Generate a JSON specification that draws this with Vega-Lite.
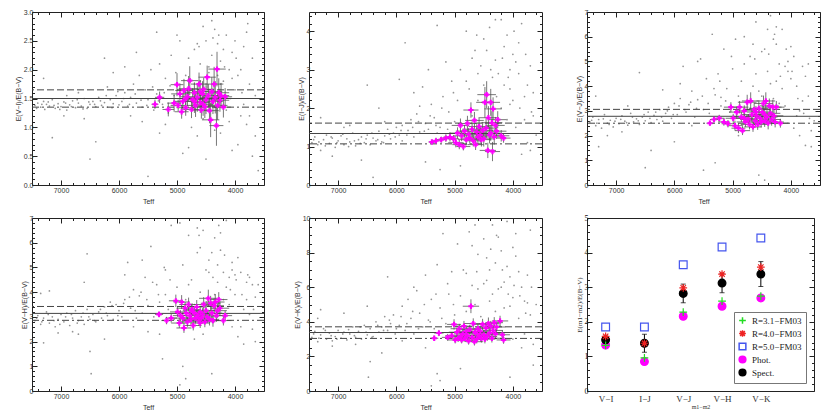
{
"$schema":"https://vega.github.io/schema/vega-lite/v6.json",
"background":"white",
"padding":{"left":13,"top":7,"right":2,"bottom":0},
"columns":3,
"spacing":{"row":33,"column":45},
"bounds":"flush",
"resolve":{"legend":{"shape":"independent","fill":"independent","stroke":"independent","strokeDash":"independent"}},
"datasets":{
"g":[
{"p":1,"t":7450,"v":1.38},{"p":1,"t":7400,"v":1.42},{"p":1,"t":7350,"v":1.35},{"p":1,"t":7300,"v":1.45},{"p":1,"t":7280,"v":1.31},{"p":1,"t":7250,"v":1.40},{"p":1,"t":7200,"v":1.37},{"p":1,"t":7150,"v":1.48},{"p":1,"t":7100,"v":1.33},{"p":1,"t":7050,"v":1.41},{"p":1,"t":7000,"v":1.36},{"p":1,"t":6950,"v":1.44},{"p":1,"t":6900,"v":1.30},{"p":1,"t":6850,"v":1.39},{"p":1,"t":6800,"v":1.46},{"p":1,"t":6750,"v":1.34},{"p":1,"t":6700,"v":1.42},{"p":1,"t":6650,"v":1.37},{"p":1,"t":6600,"v":1.50},{"p":1,"t":6550,"v":1.33},{"p":1,"t":6500,"v":1.40},{"p":1,"t":6450,"v":1.45},{"p":1,"t":6400,"v":1.36},{"p":1,"t":6350,"v":1.52},{"p":1,"t":6300,"v":1.38},{"p":1,"t":6250,"v":1.43},{"p":1,"t":6200,"v":1.35},{"p":1,"t":6150,"v":1.48},{"p":1,"t":6100,"v":1.41},{"p":1,"t":6050,"v":1.55},{"p":1,"t":6000,"v":1.39},
{"p":1,"t":7300,"v":1.85},{"p":1,"t":7150,"v":0.82},{"p":1,"t":6950,"v":1.20},{"p":1,"t":6700,"v":1.60},{"p":1,"t":6600,"v":1.15},{"p":1,"t":6500,"v":0.45},{"p":1,"t":6400,"v":0.75},{"p":1,"t":6250,"v":2.2},{"p":1,"t":6100,"v":1.95},{"p":1,"t":6200,"v":1.70},{"p":1,"t":6900,"v":1.55},
{"p":1,"t":5950,"v":1.45},{"p":1,"t":5900,"v":1.60},{"p":1,"t":5850,"v":1.37},{"p":1,"t":5800,"v":1.52},{"p":1,"t":5750,"v":1.75},{"p":1,"t":5700,"v":1.42},{"p":1,"t":5650,"v":1.90},{"p":1,"t":5600,"v":1.35},{"p":1,"t":5550,"v":1.65},{"p":1,"t":5500,"v":1.48},{"p":1,"t":5450,"v":2.0},{"p":1,"t":5400,"v":1.30},{"p":1,"t":5350,"v":1.58},{"p":1,"t":5300,"v":2.1},{"p":1,"t":5250,"v":1.40},{"p":1,"t":5200,"v":1.85},{"p":1,"t":5150,"v":1.25},{"p":1,"t":5100,"v":2.25},{"p":1,"t":5050,"v":1.55},{"p":1,"t":5000,"v":2.6},{"p":1,"t":5900,"v":2.05},{"p":1,"t":5800,"v":1.2},{"p":1,"t":5500,"v":0.15},{"p":1,"t":5600,"v":1.1},{"p":1,"t":5300,"v":0.9},{"p":1,"t":5700,"v":2.3},{"p":1,"t":5350,"v":2.65},{"p":1,"t":5200,"v":1.05},
{"p":1,"t":4950,"v":2.5},{"p":1,"t":4900,"v":0.55},{"p":1,"t":4850,"v":1.9},{"p":1,"t":4800,"v":2.2},{"p":1,"t":4750,"v":1.0},{"p":1,"t":4700,"v":2.35},{"p":1,"t":4650,"v":0.85},{"p":1,"t":4600,"v":2.1},{"p":1,"t":4550,"v":2.75},{"p":1,"t":4500,"v":0.45},{"p":1,"t":4450,"v":1.95},{"p":1,"t":4400,"v":2.85},{"p":1,"t":4350,"v":0.95},{"p":1,"t":4300,"v":2.45},{"p":1,"t":4250,"v":2.15},{"p":1,"t":4200,"v":1.8},{"p":1,"t":4150,"v":2.6},{"p":1,"t":4100,"v":1.1},{"p":1,"t":4050,"v":2.3},{"p":1,"t":4000,"v":1.65},{"p":1,"t":3950,"v":0.7},{"p":1,"t":3900,"v":2.0},{"p":1,"t":3850,"v":1.4},{"p":1,"t":3800,"v":2.65},{"p":1,"t":3750,"v":1.2},{"p":1,"t":3700,"v":0.5},{"p":1,"t":3650,"v":1.55},{"p":1,"t":3600,"v":0.25},{"p":1,"t":4450,"v":2.05},{"p":1,"t":4350,"v":2.7},{"p":1,"t":4250,"v":1.75},{"p":1,"t":4150,"v":1.3},{"p":1,"t":4050,"v":0.6},{"p":1,"t":3950,"v":1.9},{"p":1,"t":3850,"v":2.4},{"p":1,"t":3750,"v":1.75},{"p":1,"t":4500,"v":2.5},{"p":1,"t":4600,"v":1.8},{"p":1,"t":4700,"v":1.75},{"p":1,"t":4800,"v":0.65},{"p":1,"t":4400,"v":2.25},{"p":1,"t":4300,"v":1.9},{"p":1,"t":4200,"v":2.35},{"p":1,"t":4100,"v":2.0},{"p":1,"t":4000,"v":2.5},{"p":1,"t":3900,"v":1.2},{"p":1,"t":3800,"v":1.05},{"p":1,"t":4650,"v":2.45},{"p":1,"t":4550,"v":1.15},{"p":1,"t":4250,"v":0.9},{"p":1,"t":4050,"v":1.85},{"p":1,"t":3700,"v":2.2},{"p":1,"t":3650,"v":0.85},{"p":1,"t":4850,"v":1.3},{"p":1,"t":4750,"v":1.45},{"p":1,"t":4350,"v":1.35},
{"p":1,"t":7420,"v":1.33},{"p":1,"t":7330,"v":1.40},{"p":1,"t":7220,"v":1.44},{"p":1,"t":7120,"v":1.38},{"p":1,"t":7020,"v":1.31},{"p":1,"t":6920,"v":1.42},{"p":1,"t":6820,"v":1.36},{"p":1,"t":6720,"v":1.48},{"p":1,"t":6620,"v":1.32},{"p":1,"t":6520,"v":1.44},{"p":1,"t":6420,"v":1.40},{"p":1,"t":6320,"v":1.46},{"p":1,"t":6220,"v":1.55},{"p":1,"t":6120,"v":1.34},{"p":1,"t":6020,"v":1.62},{"p":1,"t":5920,"v":1.50},{"p":1,"t":5820,"v":1.40},{"p":1,"t":5720,"v":1.58},{"p":1,"t":5620,"v":1.47},{"p":1,"t":5520,"v":1.38},{"p":1,"t":5420,"v":1.70},{"p":1,"t":5320,"v":1.46},{"p":1,"t":5220,"v":1.60},{"p":1,"t":5120,"v":1.72},{"p":1,"t":5020,"v":1.95},{"p":1,"t":4620,"v":2.4},{"p":1,"t":4380,"v":2.55},{"p":1,"t":4180,"v":2.05},{"p":1,"t":3980,"v":2.2},{"p":1,"t":3880,"v":1.6},{"p":1,"t":3780,"v":2.8},{"p":1,"t":4280,"v":2.6},{"p":1,"t":4080,"v":1.5},{"p":1,"t":3680,"v":1.35},
{"p":2,"t":7450,"v":1.10},{"p":2,"t":7400,"v":1.25},{"p":2,"t":7350,"v":1.05},{"p":2,"t":7300,"v":0.90},{"p":2,"t":7250,"v":1.18},{"p":2,"t":7200,"v":1.30},{"p":2,"t":7150,"v":1.08},{"p":2,"t":7100,"v":1.22},{"p":2,"t":7050,"v":0.98},{"p":2,"t":7000,"v":1.15},{"p":2,"t":6950,"v":1.28},{"p":2,"t":6900,"v":1.05},{"p":2,"t":6850,"v":1.20},{"p":2,"t":6800,"v":1.12},{"p":2,"t":6750,"v":1.35},{"p":2,"t":6700,"v":1.02},{"p":2,"t":6650,"v":1.18},{"p":2,"t":6600,"v":1.25},{"p":2,"t":6550,"v":1.10},{"p":2,"t":6500,"v":1.30},{"p":2,"t":6450,"v":1.05},{"p":2,"t":6400,"v":1.22},{"p":2,"t":6350,"v":1.15},{"p":2,"t":6300,"v":1.40},{"p":2,"t":6250,"v":1.12},{"p":2,"t":6200,"v":1.28},{"p":2,"t":6150,"v":1.45},{"p":2,"t":6100,"v":1.20},{"p":2,"t":6050,"v":1.35},{"p":2,"t":6000,"v":1.50},
{"p":2,"t":7300,"v":1.75},{"p":2,"t":7100,"v":0.75},{"p":2,"t":6800,"v":1.55},{"p":2,"t":6500,"v":2.6},{"p":2,"t":6600,"v":0.65},{"p":2,"t":6300,"v":2.0},{"p":2,"t":6200,"v":1.65},{"p":2,"t":6400,"v":0.2},{"p":2,"t":6900,"v":1.5},
{"p":2,"t":5950,"v":1.30},{"p":2,"t":5900,"v":1.55},{"p":2,"t":5850,"v":3.7},{"p":2,"t":5800,"v":1.42},{"p":2,"t":5750,"v":1.70},{"p":2,"t":5700,"v":1.25},{"p":2,"t":5650,"v":1.85},{"p":2,"t":5600,"v":1.38},{"p":2,"t":5550,"v":2.55},{"p":2,"t":5500,"v":1.60},{"p":2,"t":5450,"v":1.45},{"p":2,"t":5400,"v":2.1},{"p":2,"t":5350,"v":1.75},{"p":2,"t":5300,"v":4.15},{"p":2,"t":5250,"v":1.50},{"p":2,"t":5200,"v":2.3},{"p":2,"t":5150,"v":3.2},{"p":2,"t":5100,"v":1.9},{"p":2,"t":5050,"v":2.7},{"p":2,"t":5000,"v":1.65},{"p":2,"t":5950,"v":2.75},{"p":2,"t":5700,"v":2.4},{"p":2,"t":5500,"v":0.6},{"p":2,"t":5450,"v":3.0},{"p":2,"t":5250,"v":0.4},{"p":2,"t":5900,"v":1.15},{"p":2,"t":5600,"v":2.05},{"p":2,"t":5300,"v":1.35},
{"p":2,"t":4950,"v":2.2},{"p":2,"t":4900,"v":3.0},{"p":2,"t":4850,"v":1.4},{"p":2,"t":4800,"v":4.0},{"p":2,"t":4750,"v":2.5},{"p":2,"t":4700,"v":1.8},{"p":2,"t":4650,"v":3.5},{"p":2,"t":4600,"v":2.9},{"p":2,"t":4550,"v":1.2},{"p":2,"t":4500,"v":3.8},{"p":2,"t":4450,"v":2.35},{"p":2,"t":4400,"v":4.1},{"p":2,"t":4350,"v":2.8},{"p":2,"t":4300,"v":3.25},{"p":2,"t":4250,"v":1.6},{"p":2,"t":4200,"v":4.3},{"p":2,"t":4150,"v":2.6},{"p":2,"t":4100,"v":3.9},{"p":2,"t":4050,"v":2.1},{"p":2,"t":4000,"v":3.4},{"p":2,"t":3950,"v":1.5},{"p":2,"t":3900,"v":2.9},{"p":2,"t":3850,"v":4.2},{"p":2,"t":3800,"v":2.3},{"p":2,"t":3750,"v":1.1},{"p":2,"t":3700,"v":3.1},{"p":2,"t":3650,"v":1.8},{"p":2,"t":3600,"v":1.3},{"p":2,"t":4450,"v":3.5},{"p":2,"t":4350,"v":1.95},{"p":2,"t":4250,"v":2.9},{"p":2,"t":4150,"v":3.6},{"p":2,"t":4050,"v":2.5},{"p":2,"t":3950,"v":3.2},{"p":2,"t":3850,"v":0.8},{"p":2,"t":3750,"v":2.6},{"p":2,"t":4600,"v":2.2},{"p":2,"t":4700,"v":3.3},{"p":2,"t":4800,"v":2.7},{"p":2,"t":4900,"v":0.5},{"p":2,"t":4500,"v":2.6},{"p":2,"t":4300,"v":4.3},{"p":2,"t":4100,"v":1.7},{"p":2,"t":4000,"v":2.2},{"p":2,"t":3900,"v":3.7},{"p":2,"t":3800,"v":1.7},{"p":2,"t":4650,"v":1.1},{"p":2,"t":4550,"v":3.1},{"p":2,"t":4200,"v":2.0},{"p":2,"t":4050,"v":3.0},{"p":2,"t":3700,"v":0.9},{"p":2,"t":3650,"v":2.4},
{"p":2,"t":7420,"v":1.18},{"p":2,"t":7330,"v":1.12},{"p":2,"t":7220,"v":1.02},{"p":2,"t":7120,"v":1.25},{"p":2,"t":7020,"v":1.10},{"p":2,"t":6920,"v":1.32},{"p":2,"t":6820,"v":1.00},{"p":2,"t":6720,"v":1.15},{"p":2,"t":6620,"v":1.08},{"p":2,"t":6520,"v":1.20},{"p":2,"t":6420,"v":1.35},{"p":2,"t":6320,"v":1.18},{"p":2,"t":6220,"v":1.10},{"p":2,"t":6120,"v":1.32},{"p":2,"t":6020,"v":1.25},{"p":2,"t":5920,"v":1.42},{"p":2,"t":5820,"v":1.30},{"p":2,"t":5720,"v":1.50},{"p":2,"t":5620,"v":1.65},{"p":2,"t":5520,"v":1.40},{"p":2,"t":5420,"v":1.80},{"p":2,"t":5320,"v":1.55},{"p":2,"t":5220,"v":2.0},{"p":2,"t":5120,"v":1.45},{"p":2,"t":5020,"v":2.4},{"p":2,"t":4620,"v":3.9},{"p":2,"t":4380,"v":3.0},{"p":2,"t":4180,"v":3.3},{"p":2,"t":3980,"v":4.0},{"p":2,"t":3880,"v":2.0},{"p":2,"t":3780,"v":3.4},{"p":2,"t":4280,"v":2.3},{"p":2,"t":4080,"v":2.8},{"p":2,"t":3680,"v":1.9},
{"p":3,"t":7450,"v":2.55},{"p":3,"t":7400,"v":2.75},{"p":3,"t":7350,"v":2.40},{"p":3,"t":7300,"v":2.65},{"p":3,"t":7250,"v":2.30},{"p":3,"t":7200,"v":2.85},{"p":3,"t":7150,"v":2.50},{"p":3,"t":7100,"v":2.62},{"p":3,"t":7050,"v":2.35},{"p":3,"t":7000,"v":2.70},{"p":3,"t":6950,"v":2.48},{"p":3,"t":6900,"v":2.80},{"p":3,"t":6850,"v":2.58},{"p":3,"t":6800,"v":2.42},{"p":3,"t":6750,"v":2.90},{"p":3,"t":6700,"v":2.55},{"p":3,"t":6650,"v":2.68},{"p":3,"t":6600,"v":2.45},{"p":3,"t":6550,"v":2.75},{"p":3,"t":6500,"v":2.60},{"p":3,"t":6450,"v":2.95},{"p":3,"t":6400,"v":2.52},{"p":3,"t":6350,"v":2.82},{"p":3,"t":6300,"v":2.65},{"p":3,"t":6250,"v":3.05},{"p":3,"t":6200,"v":2.58},{"p":3,"t":6150,"v":2.90},{"p":3,"t":6100,"v":3.15},{"p":3,"t":6050,"v":2.70},{"p":3,"t":6000,"v":3.30},
{"p":3,"t":7350,"v":3.6},{"p":3,"t":7300,"v":1.55},{"p":3,"t":7150,"v":2.0},{"p":3,"t":6900,"v":2.15},{"p":3,"t":6600,"v":4.55},{"p":3,"t":6500,"v":0.7},{"p":3,"t":6400,"v":1.4},{"p":3,"t":6200,"v":3.85},{"p":3,"t":6000,"v":1.75},{"p":3,"t":6800,"v":3.2},
{"p":3,"t":5950,"v":2.85},{"p":3,"t":5900,"v":3.50},{"p":3,"t":5850,"v":4.8},{"p":3,"t":5800,"v":2.95},{"p":3,"t":5750,"v":3.25},{"p":3,"t":5700,"v":3.8},{"p":3,"t":5650,"v":2.75},{"p":3,"t":5600,"v":3.45},{"p":3,"t":5550,"v":5.1},{"p":3,"t":5500,"v":3.05},{"p":3,"t":5450,"v":4.3},{"p":3,"t":5400,"v":2.90},{"p":3,"t":5350,"v":6.1},{"p":3,"t":5300,"v":3.65},{"p":3,"t":5250,"v":4.5},{"p":3,"t":5200,"v":3.2},{"p":3,"t":5150,"v":5.5},{"p":3,"t":5100,"v":3.9},{"p":3,"t":5050,"v":2.95},{"p":3,"t":5000,"v":4.7},{"p":3,"t":5900,"v":4.1},{"p":3,"t":5700,"v":2.4},{"p":3,"t":5500,"v":0.6},{"p":3,"t":5300,"v":0.9},{"p":3,"t":5600,"v":5.0},{"p":3,"t":5200,"v":3.55},
{"p":3,"t":4950,"v":5.9},{"p":3,"t":4900,"v":3.6},{"p":3,"t":4850,"v":4.2},{"p":3,"t":4800,"v":6.0},{"p":3,"t":4750,"v":3.3},{"p":3,"t":4700,"v":5.2},{"p":3,"t":4650,"v":4.0},{"p":3,"t":4600,"v":6.6},{"p":3,"t":4550,"v":3.8},{"p":3,"t":4500,"v":5.4},{"p":3,"t":4450,"v":0.2},{"p":3,"t":4400,"v":4.6},{"p":3,"t":4350,"v":6.85},{"p":3,"t":4300,"v":3.5},{"p":3,"t":4250,"v":5.7},{"p":3,"t":4200,"v":4.9},{"p":3,"t":4150,"v":6.3},{"p":3,"t":4100,"v":3.2},{"p":3,"t":4050,"v":5.0},{"p":3,"t":4000,"v":4.3},{"p":3,"t":3950,"v":2.3},{"p":3,"t":3900,"v":4.0},{"p":3,"t":3850,"v":3.0},{"p":3,"t":3800,"v":4.8},{"p":3,"t":3750,"v":1.6},{"p":3,"t":3700,"v":3.6},{"p":3,"t":3650,"v":1.55},{"p":3,"t":3600,"v":2.6},{"p":3,"t":4450,"v":5.5},{"p":3,"t":4350,"v":4.1},{"p":3,"t":4250,"v":6.4},{"p":3,"t":4150,"v":3.9},{"p":3,"t":4050,"v":4.6},{"p":3,"t":3950,"v":5.2},{"p":3,"t":3850,"v":2.0},{"p":3,"t":3750,"v":4.4},{"p":3,"t":4600,"v":4.5},{"p":3,"t":4700,"v":3.1},{"p":3,"t":4800,"v":4.9},{"p":3,"t":4900,"v":2.0},{"p":3,"t":4500,"v":3.6},{"p":3,"t":4300,"v":5.9},{"p":3,"t":4100,"v":4.8},{"p":3,"t":4000,"v":5.6},{"p":3,"t":3900,"v":2.8},{"p":3,"t":3800,"v":3.4},{"p":3,"t":4650,"v":5.7},{"p":3,"t":4550,"v":0.4},{"p":3,"t":4200,"v":3.3},{"p":3,"t":4050,"v":2.5},{"p":3,"t":3700,"v":4.9},{"p":3,"t":3650,"v":2.2},{"p":3,"t":4400,"v":6.3},{"p":3,"t":4250,"v":4.2},
{"p":3,"t":7420,"v":2.62},{"p":3,"t":7330,"v":2.50},{"p":3,"t":7220,"v":2.68},{"p":3,"t":7120,"v":2.45},{"p":3,"t":7020,"v":2.58},{"p":3,"t":6920,"v":2.66},{"p":3,"t":6820,"v":2.52},{"p":3,"t":6720,"v":2.75},{"p":3,"t":6620,"v":2.60},{"p":3,"t":6520,"v":2.85},{"p":3,"t":6420,"v":2.70},{"p":3,"t":6320,"v":2.95},{"p":3,"t":6220,"v":2.75},{"p":3,"t":6120,"v":3.00},{"p":3,"t":6020,"v":2.85},{"p":3,"t":5920,"v":3.20},{"p":3,"t":5820,"v":3.05},{"p":3,"t":5720,"v":3.35},{"p":3,"t":5620,"v":3.10},{"p":3,"t":5520,"v":3.60},{"p":3,"t":5420,"v":3.30},{"p":3,"t":5320,"v":3.9},{"p":3,"t":5220,"v":4.2},{"p":3,"t":5120,"v":3.4},{"p":3,"t":5020,"v":5.2},{"p":3,"t":4620,"v":5.1},{"p":3,"t":4380,"v":5.3},{"p":3,"t":4180,"v":4.4},{"p":3,"t":3980,"v":4.6},{"p":3,"t":3880,"v":3.5},{"p":3,"t":3780,"v":2.9},{"p":3,"t":4280,"v":6.1},{"p":3,"t":4080,"v":5.5},{"p":3,"t":3680,"v":2.7},
{"p":4,"t":7450,"v":2.85},{"p":4,"t":7400,"v":3.05},{"p":4,"t":7350,"v":2.70},{"p":4,"t":7300,"v":2.95},{"p":4,"t":7250,"v":3.20},{"p":4,"t":7200,"v":2.75},{"p":4,"t":7150,"v":3.00},{"p":4,"t":7100,"v":2.60},{"p":4,"t":7050,"v":2.90},{"p":4,"t":7000,"v":3.10},{"p":4,"t":6950,"v":2.80},{"p":4,"t":6900,"v":3.15},{"p":4,"t":6850,"v":2.65},{"p":4,"t":6800,"v":2.95},{"p":4,"t":6750,"v":3.25},{"p":4,"t":6700,"v":2.85},{"p":4,"t":6650,"v":3.00},{"p":4,"t":6600,"v":2.70},{"p":4,"t":6550,"v":3.30},{"p":4,"t":6500,"v":2.90},{"p":4,"t":6450,"v":3.10},{"p":4,"t":6400,"v":2.80},{"p":4,"t":6350,"v":3.20},{"p":4,"t":6300,"v":2.95},{"p":4,"t":6250,"v":3.40},{"p":4,"t":6200,"v":3.05},{"p":4,"t":6150,"v":3.60},{"p":4,"t":6100,"v":2.90},{"p":4,"t":6050,"v":3.50},{"p":4,"t":6000,"v":3.25},
{"p":4,"t":7350,"v":3.95},{"p":4,"t":7200,"v":4.05},{"p":4,"t":7300,"v":1.95},{"p":4,"t":7050,"v":2.35},{"p":4,"t":6700,"v":2.3},{"p":4,"t":6550,"v":5.55},{"p":4,"t":6500,"v":1.6},{"p":4,"t":6480,"v":0.7},{"p":4,"t":6250,"v":2.1},{"p":4,"t":6600,"v":4.4},{"p":4,"t":6800,"v":2.4},
{"p":4,"t":5950,"v":3.00},{"p":4,"t":5900,"v":3.70},{"p":4,"t":5850,"v":5.2},{"p":4,"t":5800,"v":3.35},{"p":4,"t":5750,"v":4.1},{"p":4,"t":5700,"v":2.95},{"p":4,"t":5650,"v":3.85},{"p":4,"t":5600,"v":3.15},{"p":4,"t":5550,"v":4.6},{"p":4,"t":5500,"v":3.45},{"p":4,"t":5450,"v":5.85},{"p":4,"t":5400,"v":3.0},{"p":4,"t":5350,"v":4.3},{"p":4,"t":5300,"v":3.6},{"p":4,"t":5250,"v":1.3},{"p":4,"t":5200,"v":4.9},{"p":4,"t":5150,"v":3.3},{"p":4,"t":5100,"v":6.7},{"p":4,"t":5050,"v":2.9},{"p":4,"t":5000,"v":4.2},{"p":4,"t":5900,"v":4.7},{"p":4,"t":5750,"v":2.6},{"p":4,"t":5600,"v":5.3},{"p":4,"t":5500,"v":2.4},{"p":4,"t":5300,"v":2.3},{"p":4,"t":5200,"v":3.9},
{"p":4,"t":4950,"v":6.8},{"p":4,"t":4900,"v":5.1},{"p":4,"t":4850,"v":3.7},{"p":4,"t":4800,"v":6.3},{"p":4,"t":4750,"v":4.5},{"p":4,"t":4700,"v":2.1},{"p":4,"t":4650,"v":5.6},{"p":4,"t":4600,"v":4.0},{"p":4,"t":4550,"v":6.5},{"p":4,"t":4500,"v":3.6},{"p":4,"t":4450,"v":5.3},{"p":4,"t":4400,"v":0.7},{"p":4,"t":4350,"v":6.2},{"p":4,"t":4300,"v":4.4},{"p":4,"t":4250,"v":5.7},{"p":4,"t":4200,"v":3.7},{"p":4,"t":4150,"v":6.9},{"p":4,"t":4100,"v":4.6},{"p":4,"t":4050,"v":5.2},{"p":4,"t":4000,"v":3.9},{"p":4,"t":3950,"v":2.2},{"p":4,"t":3900,"v":4.8},{"p":4,"t":3850,"v":1.9},{"p":4,"t":3800,"v":4.4},{"p":4,"t":3750,"v":3.1},{"p":4,"t":3700,"v":2.5},{"p":4,"t":3650,"v":3.8},{"p":4,"t":3600,"v":4.3},{"p":4,"t":4450,"v":4.8},{"p":4,"t":4350,"v":3.9},{"p":4,"t":4250,"v":6.4},{"p":4,"t":4150,"v":4.2},{"p":4,"t":4050,"v":4.9},{"p":4,"t":3950,"v":5.4},{"p":4,"t":3850,"v":3.3},{"p":4,"t":3750,"v":4.6},{"p":4,"t":4600,"v":5.8},{"p":4,"t":4700,"v":3.5},{"p":4,"t":4800,"v":4.3},{"p":4,"t":4900,"v":1.0},{"p":4,"t":4500,"v":4.9},{"p":4,"t":4300,"v":5.1},{"p":4,"t":4100,"v":3.5},{"p":4,"t":4000,"v":4.7},{"p":4,"t":3900,"v":2.6},{"p":4,"t":3800,"v":3.7},{"p":4,"t":4650,"v":6.6},{"p":4,"t":4550,"v":2.3},{"p":4,"t":4200,"v":4.8},{"p":4,"t":4050,"v":2.6},{"p":4,"t":3700,"v":4.3},{"p":4,"t":3650,"v":2.0},{"p":4,"t":4400,"v":5.6},{"p":4,"t":4250,"v":3.4},{"p":4,"t":4950,"v":0.25},{"p":4,"t":4850,"v":0.5},
{"p":4,"t":7420,"v":2.95},{"p":4,"t":7330,"v":2.80},{"p":4,"t":7220,"v":3.10},{"p":4,"t":7120,"v":2.85},{"p":4,"t":7020,"v":2.70},{"p":4,"t":6920,"v":3.00},{"p":4,"t":6820,"v":3.10},{"p":4,"t":6720,"v":2.75},{"p":4,"t":6620,"v":3.15},{"p":4,"t":6520,"v":3.00},{"p":4,"t":6420,"v":2.85},{"p":4,"t":6320,"v":3.30},{"p":4,"t":6220,"v":3.15},{"p":4,"t":6120,"v":3.45},{"p":4,"t":6020,"v":3.05},{"p":4,"t":5920,"v":3.55},{"p":4,"t":5820,"v":3.80},{"p":4,"t":5720,"v":3.25},{"p":4,"t":5620,"v":4.0},{"p":4,"t":5520,"v":3.70},{"p":4,"t":5420,"v":4.4},{"p":4,"t":5320,"v":3.9},{"p":4,"t":5220,"v":5.0},{"p":4,"t":5120,"v":4.5},{"p":4,"t":5020,"v":3.6},{"p":4,"t":4620,"v":6.3},{"p":4,"t":4380,"v":4.6},{"p":4,"t":4180,"v":5.5},{"p":4,"t":3980,"v":4.5},{"p":4,"t":3880,"v":3.9},{"p":4,"t":3780,"v":4.7},{"p":4,"t":4280,"v":6.7},{"p":4,"t":4080,"v":4.1},{"p":4,"t":3680,"v":3.3},
{"p":5,"t":7450,"v":3.1},{"p":5,"t":7400,"v":3.45},{"p":5,"t":7350,"v":2.85},{"p":5,"t":7300,"v":3.25},{"p":5,"t":7250,"v":3.6},{"p":5,"t":7200,"v":3.0},{"p":5,"t":7150,"v":3.35},{"p":5,"t":7100,"v":2.9},{"p":5,"t":7050,"v":3.15},{"p":5,"t":7000,"v":3.5},{"p":5,"t":6950,"v":3.05},{"p":5,"t":6900,"v":3.4},{"p":5,"t":6850,"v":2.95},{"p":5,"t":6800,"v":3.3},{"p":5,"t":6750,"v":3.7},{"p":5,"t":6700,"v":3.1},{"p":5,"t":6650,"v":3.45},{"p":5,"t":6600,"v":3.0},{"p":5,"t":6550,"v":3.8},{"p":5,"t":6500,"v":3.25},{"p":5,"t":6450,"v":3.6},{"p":5,"t":6400,"v":3.15},{"p":5,"t":6350,"v":4.0},{"p":5,"t":6300,"v":3.4},{"p":5,"t":6250,"v":3.7},{"p":5,"t":6200,"v":4.3},{"p":5,"t":6150,"v":3.5},{"p":5,"t":6100,"v":3.9},{"p":5,"t":6050,"v":4.4},{"p":5,"t":6000,"v":3.6},
{"p":5,"t":7300,"v":4.7},{"p":5,"t":7350,"v":4.2},{"p":5,"t":7100,"v":2.6},{"p":5,"t":6500,"v":4.9},{"p":5,"t":6450,"v":1.7},{"p":5,"t":6480,"v":0.8},{"p":5,"t":6700,"v":2.7},{"p":5,"t":6250,"v":2.2},{"p":5,"t":6150,"v":6.6},{"p":5,"t":6900,"v":4.5},
{"p":5,"t":5950,"v":3.8},{"p":5,"t":5900,"v":4.9},{"p":5,"t":5850,"v":3.5},{"p":5,"t":5800,"v":5.3},{"p":5,"t":5750,"v":4.2},{"p":5,"t":5700,"v":3.3},{"p":5,"t":5650,"v":5.8},{"p":5,"t":5600,"v":4.5},{"p":5,"t":5550,"v":3.7},{"p":5,"t":5500,"v":6.7},{"p":5,"t":5450,"v":4.1},{"p":5,"t":5400,"v":5.3},{"p":5,"t":5350,"v":3.6},{"p":5,"t":5300,"v":7.3},{"p":5,"t":5250,"v":4.8},{"p":5,"t":5200,"v":9.1},{"p":5,"t":5150,"v":3.9},{"p":5,"t":5100,"v":5.6},{"p":5,"t":5050,"v":6.9},{"p":5,"t":5000,"v":4.4},{"p":5,"t":5900,"v":2.9},{"p":5,"t":5700,"v":6.0},{"p":5,"t":5500,"v":2.5},{"p":5,"t":5300,"v":1.0},{"p":5,"t":5400,"v":0.3},{"p":5,"t":5250,"v":0.6},
{"p":5,"t":4950,"v":8.5},{"p":5,"t":4900,"v":5.5},{"p":5,"t":4850,"v":7.0},{"p":5,"t":4800,"v":4.6},{"p":5,"t":4750,"v":9.2},{"p":5,"t":4700,"v":6.1},{"p":5,"t":4650,"v":5.0},{"p":5,"t":4600,"v":7.9},{"p":5,"t":4550,"v":4.3},{"p":5,"t":4500,"v":8.8},{"p":5,"t":4450,"v":6.4},{"p":5,"t":4400,"v":5.2},{"p":5,"t":4350,"v":9.6},{"p":5,"t":4300,"v":7.4},{"p":5,"t":4250,"v":5.9},{"p":5,"t":4200,"v":8.1},{"p":5,"t":4150,"v":4.8},{"p":5,"t":4100,"v":9.8},{"p":5,"t":4050,"v":6.6},{"p":5,"t":4000,"v":5.4},{"p":5,"t":3950,"v":7.8},{"p":5,"t":3900,"v":4.2},{"p":5,"t":3850,"v":6.0},{"p":5,"t":3800,"v":3.3},{"p":5,"t":3750,"v":5.1},{"p":5,"t":3700,"v":9.3},{"p":5,"t":3650,"v":2.7},{"p":5,"t":3600,"v":5.0},{"p":5,"t":4450,"v":7.7},{"p":5,"t":4350,"v":5.6},{"p":5,"t":4250,"v":8.9},{"p":5,"t":4150,"v":6.3},{"p":5,"t":4050,"v":4.9},{"p":5,"t":3950,"v":9.1},{"p":5,"t":3850,"v":2.5},{"p":5,"t":3750,"v":6.7},{"p":5,"t":4600,"v":5.9},{"p":5,"t":4700,"v":8.4},{"p":5,"t":4800,"v":6.8},{"p":5,"t":4900,"v":1.3},{"p":5,"t":4500,"v":6.2},{"p":5,"t":4300,"v":4.6},{"p":5,"t":4100,"v":7.2},{"p":5,"t":4000,"v":3.0},{"p":5,"t":3900,"v":6.9},{"p":5,"t":3800,"v":5.2},{"p":5,"t":4650,"v":9.6},{"p":5,"t":4550,"v":2.9},{"p":5,"t":4200,"v":6.0},{"p":5,"t":4050,"v":0.8},{"p":5,"t":3700,"v":4.4},{"p":5,"t":3650,"v":1.5},{"p":5,"t":4400,"v":7.0},{"p":5,"t":4250,"v":3.9},{"p":5,"t":4000,"v":8.3},
{"p":5,"t":7420,"v":3.3},{"p":5,"t":7330,"v":3.05},{"p":5,"t":7220,"v":3.5},{"p":5,"t":7120,"v":3.2},{"p":5,"t":7020,"v":3.0},{"p":5,"t":6920,"v":3.3},{"p":5,"t":6820,"v":3.55},{"p":5,"t":6720,"v":3.2},{"p":5,"t":6620,"v":3.7},{"p":5,"t":6520,"v":3.4},{"p":5,"t":6420,"v":3.1},{"p":5,"t":6320,"v":3.8},{"p":5,"t":6220,"v":3.5},{"p":5,"t":6120,"v":4.1},{"p":5,"t":6020,"v":3.3},{"p":5,"t":5920,"v":4.3},{"p":5,"t":5820,"v":3.9},{"p":5,"t":5720,"v":4.6},{"p":5,"t":5620,"v":3.6},{"p":5,"t":5520,"v":5.0},{"p":5,"t":5420,"v":4.0},{"p":5,"t":5320,"v":5.6},{"p":5,"t":5220,"v":4.2},{"p":5,"t":5120,"v":6.2},{"p":5,"t":5020,"v":5.0},{"p":5,"t":4620,"v":6.9},{"p":5,"t":4380,"v":8.2},{"p":5,"t":4180,"v":7.0},{"p":5,"t":3980,"v":6.1},{"p":5,"t":3880,"v":5.5},{"p":5,"t":3780,"v":4.5},{"p":5,"t":4280,"v":9.0},{"p":5,"t":4080,"v":5.6},{"p":5,"t":3680,"v":6.0}
],
"m":[
{"p":1,"t":5380,"v":1.40,"ex":60,"ey":0.08},{"p":1,"t":5300,"v":1.52,"ex":80,"ey":0.1},{"p":1,"t":5150,"v":1.31,"ex":100,"ey":0.12},{"p":1,"t":5050,"v":1.42,"ex":120,"ey":0.15},{"p":1,"t":5000,"v":1.74,"ex":110,"ey":0.2},{"p":1,"t":4980,"v":1.38,"ex":130,"ey":0.1},{"p":1,"t":4950,"v":1.58,"ex":150,"ey":0.18},{"p":1,"t":4920,"v":1.27,"ex":120,"ey":0.12},{"p":1,"t":4900,"v":1.45,"ex":140,"ey":0.15},{"p":1,"t":4880,"v":1.64,"ex":150,"ey":0.2},{"p":1,"t":4850,"v":1.34,"ex":160,"ey":0.14},{"p":1,"t":4820,"v":1.53,"ex":130,"ey":0.16},{"p":1,"t":4800,"v":1.67,"ex":170,"ey":0.22},{"p":1,"t":4780,"v":1.81,"ex":150,"ey":0.25},{"p":1,"t":4750,"v":1.31,"ex":140,"ey":0.15},{"p":1,"t":4730,"v":1.48,"ex":180,"ey":0.2},{"p":1,"t":4700,"v":1.60,"ex":160,"ey":0.18},{"p":1,"t":4680,"v":1.38,"ex":150,"ey":0.2},{"p":1,"t":4650,"v":1.52,"ex":170,"ey":0.25},{"p":1,"t":4620,"v":1.75,"ex":140,"ey":0.2},{"p":1,"t":4600,"v":1.43,"ex":160,"ey":0.18},{"p":1,"t":4580,"v":1.30,"ex":150,"ey":0.15},{"p":1,"t":4560,"v":1.58,"ex":170,"ey":0.22},{"p":1,"t":4540,"v":1.66,"ex":160,"ey":0.2},{"p":1,"t":4520,"v":1.36,"ex":180,"ey":0.2},{"p":1,"t":4500,"v":1.48,"ex":190,"ey":0.25},{"p":1,"t":4480,"v":1.87,"ex":150,"ey":0.2},{"p":1,"t":4460,"v":1.55,"ex":170,"ey":0.2},{"p":1,"t":4440,"v":1.29,"ex":160,"ey":0.22},{"p":1,"t":4420,"v":1.13,"ex":150,"ey":0.3},{"p":1,"t":4400,"v":1.62,"ex":180,"ey":0.25},{"p":1,"t":4380,"v":1.45,"ex":170,"ey":0.22},{"p":1,"t":4360,"v":1.75,"ex":160,"ey":0.3},{"p":1,"t":4340,"v":1.52,"ex":190,"ey":0.28},{"p":1,"t":4320,"v":1.03,"ex":120,"ey":0.35},{"p":1,"t":4310,"v":2.01,"ex":150,"ey":0.3},{"p":1,"t":4300,"v":1.38,"ex":170,"ey":0.25},{"p":1,"t":4280,"v":1.60,"ex":180,"ey":0.25},{"p":1,"t":4260,"v":1.47,"ex":160,"ey":0.2},{"p":1,"t":4240,"v":1.55,"ex":140,"ey":0.22},{"p":1,"t":4200,"v":1.35,"ex":130,"ey":0.18},{"p":1,"t":4170,"v":1.53,"ex":120,"ey":0.15},{"p":1,"t":4600,"v":1.62,"ex":140,"ey":0.2},{"p":1,"t":4700,"v":1.45,"ex":160,"ey":0.2},{"p":1,"t":4850,"v":1.50,"ex":140,"ey":0.16},{"p":1,"t":4550,"v":1.40,"ex":170,"ey":0.2},
{"p":2,"t":5390,"v":1.12,"ex":60,"ey":0.06},{"p":2,"t":5320,"v":1.15,"ex":70,"ey":0.08},{"p":2,"t":5230,"v":1.18,"ex":90,"ey":0.08},{"p":2,"t":5150,"v":1.22,"ex":100,"ey":0.1},{"p":2,"t":5080,"v":1.25,"ex":110,"ey":0.12},{"p":2,"t":5020,"v":1.20,"ex":100,"ey":0.1},{"p":2,"t":4980,"v":1.10,"ex":130,"ey":0.12},{"p":2,"t":4950,"v":1.35,"ex":140,"ey":0.15},{"p":2,"t":4920,"v":1.05,"ex":120,"ey":0.12},{"p":2,"t":4900,"v":1.55,"ex":150,"ey":0.18},{"p":2,"t":4880,"v":1.28,"ex":130,"ey":0.14},{"p":2,"t":4850,"v":1.00,"ex":120,"ey":0.1},{"p":2,"t":4830,"v":1.40,"ex":150,"ey":0.16},{"p":2,"t":4800,"v":1.18,"ex":140,"ey":0.15},{"p":2,"t":4780,"v":1.60,"ex":160,"ey":0.2},{"p":2,"t":4760,"v":1.32,"ex":150,"ey":0.16},{"p":2,"t":4740,"v":1.22,"ex":160,"ey":0.15},{"p":2,"t":4720,"v":1.95,"ex":130,"ey":0.2},{"p":2,"t":4700,"v":1.45,"ex":170,"ey":0.2},{"p":2,"t":4680,"v":1.15,"ex":150,"ey":0.15},{"p":2,"t":4660,"v":1.68,"ex":160,"ey":0.22},{"p":2,"t":4640,"v":1.05,"ex":140,"ey":0.14},{"p":2,"t":4620,"v":1.38,"ex":170,"ey":0.2},{"p":2,"t":4600,"v":1.25,"ex":160,"ey":0.18},{"p":2,"t":4580,"v":1.52,"ex":180,"ey":0.22},{"p":2,"t":4560,"v":1.30,"ex":170,"ey":0.2},{"p":2,"t":4540,"v":1.18,"ex":160,"ey":0.18},{"p":2,"t":4520,"v":1.42,"ex":180,"ey":0.22},{"p":2,"t":4500,"v":1.20,"ex":190,"ey":0.2},{"p":2,"t":4480,"v":2.15,"ex":150,"ey":0.4},{"p":2,"t":4460,"v":1.48,"ex":170,"ey":0.25},{"p":2,"t":4450,"v":2.35,"ex":160,"ey":0.35},{"p":2,"t":4430,"v":0.90,"ex":140,"ey":0.2},{"p":2,"t":4420,"v":1.75,"ex":170,"ey":0.3},{"p":2,"t":4400,"v":1.30,"ex":180,"ey":0.22},{"p":2,"t":4380,"v":2.15,"ex":160,"ey":0.35},{"p":2,"t":4360,"v":1.62,"ex":180,"ey":0.3},{"p":2,"t":4350,"v":0.87,"ex":130,"ey":0.25},{"p":2,"t":4340,"v":1.98,"ex":150,"ey":0.3},{"p":2,"t":4320,"v":1.25,"ex":170,"ey":0.2},{"p":2,"t":4300,"v":1.55,"ex":160,"ey":0.22},{"p":2,"t":4280,"v":1.40,"ex":170,"ey":0.2},{"p":2,"t":4260,"v":1.70,"ex":150,"ey":0.22},{"p":2,"t":4200,"v":1.28,"ex":140,"ey":0.15},{"p":2,"t":4160,"v":1.22,"ex":120,"ey":0.12},{"p":2,"t":4380,"v":1.35,"ex":170,"ey":0.2},
{"p":3,"t":5390,"v":2.50,"ex":60,"ey":0.1},{"p":3,"t":5320,"v":2.65,"ex":70,"ey":0.12},{"p":3,"t":5230,"v":2.70,"ex":90,"ey":0.14},{"p":3,"t":5150,"v":2.55,"ex":100,"ey":0.15},{"p":3,"t":5080,"v":2.48,"ex":110,"ey":0.15},{"p":3,"t":5030,"v":3.15,"ex":120,"ey":0.2},{"p":3,"t":4990,"v":2.70,"ex":130,"ey":0.18},{"p":3,"t":4960,"v":2.40,"ex":140,"ey":0.2},{"p":3,"t":4930,"v":2.95,"ex":130,"ey":0.22},{"p":3,"t":4900,"v":2.30,"ex":120,"ey":0.2},{"p":3,"t":4880,"v":3.15,"ex":150,"ey":0.25},{"p":3,"t":4850,"v":2.75,"ex":140,"ey":0.2},{"p":3,"t":4830,"v":2.20,"ex":130,"ey":0.18},{"p":3,"t":4800,"v":3.00,"ex":160,"ey":0.22},{"p":3,"t":4780,"v":2.55,"ex":150,"ey":0.2},{"p":3,"t":4750,"v":3.35,"ex":160,"ey":0.3},{"p":3,"t":4730,"v":2.65,"ex":140,"ey":0.22},{"p":3,"t":4710,"v":2.45,"ex":150,"ey":0.2},{"p":3,"t":4690,"v":3.40,"ex":150,"ey":0.35},{"p":3,"t":4670,"v":2.85,"ex":170,"ey":0.25},{"p":3,"t":4650,"v":2.35,"ex":150,"ey":0.2},{"p":3,"t":4630,"v":3.05,"ex":170,"ey":0.28},{"p":3,"t":4610,"v":2.60,"ex":160,"ey":0.22},{"p":3,"t":4590,"v":2.80,"ex":180,"ey":0.25},{"p":3,"t":4570,"v":2.45,"ex":170,"ey":0.22},{"p":3,"t":4550,"v":3.10,"ex":160,"ey":0.28},{"p":3,"t":4530,"v":2.70,"ex":180,"ey":0.25},{"p":3,"t":4510,"v":2.55,"ex":170,"ey":0.22},{"p":3,"t":4490,"v":2.95,"ex":180,"ey":0.3},{"p":3,"t":4470,"v":3.30,"ex":160,"ey":0.32},{"p":3,"t":4450,"v":2.60,"ex":170,"ey":0.25},{"p":3,"t":4430,"v":3.40,"ex":160,"ey":0.35},{"p":3,"t":4410,"v":2.75,"ex":180,"ey":0.28},{"p":3,"t":4390,"v":2.50,"ex":170,"ey":0.25},{"p":3,"t":4370,"v":3.20,"ex":160,"ey":0.3},{"p":3,"t":4350,"v":2.90,"ex":170,"ey":0.28},{"p":3,"t":4330,"v":2.65,"ex":160,"ey":0.25},{"p":3,"t":4310,"v":3.15,"ex":150,"ey":0.3},{"p":3,"t":4290,"v":2.80,"ex":160,"ey":0.25},{"p":3,"t":4270,"v":2.55,"ex":150,"ey":0.22},{"p":3,"t":4250,"v":3.15,"ex":140,"ey":0.25},{"p":3,"t":4180,"v":2.50,"ex":120,"ey":0.18},{"p":3,"t":4600,"v":2.95,"ex":160,"ey":0.25},{"p":3,"t":4800,"v":2.70,"ex":150,"ey":0.2},{"p":3,"t":4450,"v":2.85,"ex":170,"ey":0.25},
{"p":4,"t":5310,"v":3.10,"ex":70,"ey":0.12},{"p":4,"t":5180,"v":2.85,"ex":90,"ey":0.15},{"p":4,"t":5100,"v":2.95,"ex":100,"ey":0.18},{"p":4,"t":5020,"v":3.65,"ex":120,"ey":0.25},{"p":4,"t":4990,"v":3.20,"ex":130,"ey":0.2},{"p":4,"t":4960,"v":2.75,"ex":140,"ey":0.2},{"p":4,"t":4940,"v":3.05,"ex":130,"ey":0.22},{"p":4,"t":4920,"v":3.60,"ex":140,"ey":0.28},{"p":4,"t":4900,"v":2.95,"ex":150,"ey":0.22},{"p":4,"t":4880,"v":2.55,"ex":130,"ey":0.2},{"p":4,"t":4860,"v":3.35,"ex":150,"ey":0.25},{"p":4,"t":4840,"v":3.15,"ex":140,"ey":0.22},{"p":4,"t":4820,"v":2.80,"ex":150,"ey":0.2},{"p":4,"t":4800,"v":3.50,"ex":160,"ey":0.28},{"p":4,"t":4780,"v":3.05,"ex":150,"ey":0.22},{"p":4,"t":4760,"v":2.90,"ex":160,"ey":0.22},{"p":4,"t":4740,"v":3.30,"ex":150,"ey":0.25},{"p":4,"t":4720,"v":2.65,"ex":140,"ey":0.2},{"p":4,"t":4700,"v":3.15,"ex":170,"ey":0.25},{"p":4,"t":4680,"v":2.95,"ex":160,"ey":0.22},{"p":4,"t":4660,"v":3.40,"ex":170,"ey":0.28},{"p":4,"t":4640,"v":3.05,"ex":160,"ey":0.22},{"p":4,"t":4620,"v":2.85,"ex":170,"ey":0.22},{"p":4,"t":4600,"v":3.20,"ex":180,"ey":0.25},{"p":4,"t":4580,"v":2.95,"ex":170,"ey":0.22},{"p":4,"t":4560,"v":3.10,"ex":180,"ey":0.25},{"p":4,"t":4540,"v":3.50,"ex":170,"ey":0.3},{"p":4,"t":4520,"v":2.80,"ex":180,"ey":0.22},{"p":4,"t":4500,"v":3.25,"ex":190,"ey":0.28},{"p":4,"t":4480,"v":3.00,"ex":180,"ey":0.25},{"p":4,"t":4460,"v":3.75,"ex":160,"ey":0.35},{"p":4,"t":4440,"v":2.90,"ex":170,"ey":0.25},{"p":4,"t":4420,"v":3.55,"ex":170,"ey":0.3},{"p":4,"t":4400,"v":3.15,"ex":180,"ey":0.28},{"p":4,"t":4380,"v":2.85,"ex":170,"ey":0.25},{"p":4,"t":4360,"v":3.45,"ex":170,"ey":0.3},{"p":4,"t":4340,"v":3.60,"ex":160,"ey":0.32},{"p":4,"t":4320,"v":3.05,"ex":170,"ey":0.25},{"p":4,"t":4300,"v":3.25,"ex":160,"ey":0.28},{"p":4,"t":4280,"v":3.70,"ex":150,"ey":0.3},{"p":4,"t":4260,"v":3.35,"ex":160,"ey":0.28},{"p":4,"t":4200,"v":2.85,"ex":140,"ey":0.2},{"p":4,"t":4170,"v":3.05,"ex":120,"ey":0.2},{"p":4,"t":4600,"v":2.75,"ex":160,"ey":0.2},{"p":4,"t":4750,"v":3.25,"ex":150,"ey":0.25},
{"p":5,"t":5350,"v":3.05,"ex":70,"ey":0.15},{"p":5,"t":5270,"v":3.35,"ex":80,"ey":0.18},{"p":5,"t":5120,"v":3.10,"ex":100,"ey":0.2},{"p":5,"t":5050,"v":3.20,"ex":110,"ey":0.2},{"p":5,"t":5010,"v":3.85,"ex":120,"ey":0.3},{"p":5,"t":4990,"v":2.95,"ex":130,"ey":0.2},{"p":5,"t":4960,"v":3.40,"ex":140,"ey":0.25},{"p":5,"t":4940,"v":3.05,"ex":130,"ey":0.22},{"p":5,"t":4920,"v":3.60,"ex":150,"ey":0.28},{"p":5,"t":4900,"v":3.15,"ex":140,"ey":0.22},{"p":5,"t":4880,"v":2.95,"ex":130,"ey":0.2},{"p":5,"t":4860,"v":3.30,"ex":150,"ey":0.25},{"p":5,"t":4840,"v":3.75,"ex":150,"ey":0.3},{"p":5,"t":4820,"v":3.05,"ex":140,"ey":0.22},{"p":5,"t":4800,"v":3.45,"ex":160,"ey":0.28},{"p":5,"t":4780,"v":3.20,"ex":150,"ey":0.25},{"p":5,"t":4760,"v":2.90,"ex":150,"ey":0.22},{"p":5,"t":4740,"v":3.55,"ex":160,"ey":0.28},{"p":5,"t":4720,"v":4.90,"ex":140,"ey":0.4},{"p":5,"t":4700,"v":3.10,"ex":170,"ey":0.25},{"p":5,"t":4680,"v":3.90,"ex":160,"ey":0.3},{"p":5,"t":4660,"v":2.85,"ex":150,"ey":0.22},{"p":5,"t":4640,"v":3.35,"ex":170,"ey":0.28},{"p":5,"t":4620,"v":3.00,"ex":160,"ey":0.25},{"p":5,"t":4600,"v":3.60,"ex":180,"ey":0.3},{"p":5,"t":4580,"v":3.20,"ex":170,"ey":0.25},{"p":5,"t":4560,"v":3.45,"ex":180,"ey":0.28},{"p":5,"t":4540,"v":3.05,"ex":170,"ey":0.25},{"p":5,"t":4520,"v":3.85,"ex":170,"ey":0.32},{"p":5,"t":4500,"v":3.25,"ex":190,"ey":0.28},{"p":5,"t":4480,"v":3.00,"ex":180,"ey":0.25},{"p":5,"t":4460,"v":3.65,"ex":170,"ey":0.3},{"p":5,"t":4440,"v":3.15,"ex":170,"ey":0.25},{"p":5,"t":4420,"v":3.90,"ex":160,"ey":0.35},{"p":5,"t":4400,"v":3.35,"ex":180,"ey":0.28},{"p":5,"t":4380,"v":3.75,"ex":170,"ey":0.3},{"p":5,"t":4360,"v":3.05,"ex":160,"ey":0.25},{"p":5,"t":4340,"v":3.50,"ex":170,"ey":0.3},{"p":5,"t":4320,"v":3.95,"ex":150,"ey":0.32},{"p":5,"t":4300,"v":3.30,"ex":160,"ey":0.28},{"p":5,"t":4280,"v":3.70,"ex":150,"ey":0.3},{"p":5,"t":4220,"v":4.05,"ex":140,"ey":0.3},{"p":5,"t":4180,"v":3.25,"ex":130,"ey":0.25},{"p":5,"t":4160,"v":2.95,"ex":120,"ey":0.22},{"p":5,"t":4650,"v":3.40,"ex":160,"ey":0.25}
],
"h":[
{"p":1,"v":1.5,"k":"mean"},{"p":1,"v":1.65,"k":"upper"},{"p":1,"v":1.35,"k":"lower"},
{"p":2,"v":1.34,"k":"mean"},{"p":2,"v":1.61,"k":"upper"},{"p":2,"v":1.07,"k":"lower"},
{"p":3,"v":2.78,"k":"mean"},{"p":3,"v":3.06,"k":"upper"},{"p":3,"v":2.50,"k":"lower"},
{"p":4,"v":3.14,"k":"mean"},{"p":4,"v":3.42,"k":"upper"},{"p":4,"v":2.86,"k":"lower"},
{"p":5,"v":3.38,"k":"mean"},{"p":5,"v":3.71,"k":"upper"},{"p":5,"v":3.04,"k":"lower"}
],
"s":[
{"i":1,"s":"Phot.","v":1.33},{"i":2,"s":"Phot.","v":0.85},{"i":3,"s":"Phot.","v":2.16},{"i":4,"s":"Phot.","v":2.45},{"i":5,"s":"Phot.","v":2.69},
{"i":1,"s":"Spect.","v":1.48,"err":0.1},{"i":2,"s":"Spect.","v":1.38,"err":0.26},{"i":3,"s":"Spect.","v":2.82,"err":0.27},{"i":4,"s":"Spect.","v":3.12,"err":0.28},{"i":5,"s":"Spect.","v":3.38,"err":0.36},
{"i":1,"s":"R=5.0−FM03","v":1.85},{"i":2,"s":"R=5.0−FM03","v":1.85},{"i":3,"s":"R=5.0−FM03","v":3.65},{"i":4,"s":"R=5.0−FM03","v":4.16},{"i":5,"s":"R=5.0−FM03","v":4.42},
{"i":1,"s":"R=3.1−FM03","v":1.32},{"i":2,"s":"R=3.1−FM03","v":0.96},{"i":3,"s":"R=3.1−FM03","v":2.28},{"i":4,"s":"R=3.1−FM03","v":2.60},{"i":5,"s":"R=3.1−FM03","v":2.74},
{"i":1,"s":"R=4.0−FM03","v":1.58},{"i":2,"s":"R=4.0−FM03","v":1.38},{"i":3,"s":"R=4.0−FM03","v":2.98},{"i":4,"s":"R=4.0−FM03","v":3.38},{"i":5,"s":"R=4.0−FM03","v":3.58}
]
},
"concat":[
{"width":232,"height":173,"layer":[
{"data":{"name":"g"},"transform":[{"filter":"datum.p==1"}],"mark":{"type":"point","filled":true,"size":3,"color":"#666","clip":true},
"encoding":{"x":{"field":"t","type":"quantitative","scale":{"domain":[7500,3500],"nice":false,"zero":false},"axis":{"orient":"bottom","title":"Teff","values":[3600,3800,4000,4200,4400,4600,4800,5000,5200,5400,5600,5800,6000,6200,6400,6600,6800,7000,7200,7400],"labelExpr":"datum.value % 1000 == 0 ? format(datum.value,'d') : ''","tickSize":{"condition":{"test":"datum.value % 1000 == 0","value":-5},"value":-2.5}}},
"y":{"field":"v","type":"quantitative","scale":{"domain":[0,3],"nice":false,"zero":false},"axis":{"orient":"left","title":"E(V−I)/E(B−V)","values":[0,0.1,0.2,0.3,0.4,0.5,0.6,0.7,0.8,0.9,1,1.1,1.2,1.3,1.4,1.5,1.6,1.7,1.8,1.9,2,2.1,2.2,2.3,2.4,2.5,2.6,2.7,2.8,2.9,3],"labelExpr":"round(datum.value*10) % 5 == 0 ? format(datum.value,'.1f') : ''","labelPadding":4,"tickSize":{"condition":{"test":"round(datum.value*10) % 5 == 0","value":-5},"value":-2.5}}}}},
{"data":{"name":"m"},"transform":[{"filter":"datum.p==1"}],"mark":{"type":"errorbar","color":"#555","thickness":1,"opacity":0.8},
"encoding":{"x":{"field":"t","type":"quantitative","scale":{"domain":[7500,3500],"nice":false,"zero":false},"axis":{"orient":"top","title":null,"labels":false,"values":[3600,3800,4000,4200,4400,4600,4800,5000,5200,5400,5600,5800,6000,6200,6400,6600,6800,7000,7200,7400],"tickSize":{"condition":{"test":"datum.value % 1000 == 0","value":-5},"value":-2.5}}},"xError":{"field":"ex"},
"y":{"field":"v","type":"quantitative","scale":{"domain":[0,3],"nice":false,"zero":false},"axis":{"orient":"right","title":null,"labels":false,"values":[0,0.1,0.2,0.3,0.4,0.5,0.6,0.7,0.8,0.9,1,1.1,1.2,1.3,1.4,1.5,1.6,1.7,1.8,1.9,2,2.1,2.2,2.3,2.4,2.5,2.6,2.7,2.8,2.9,3],"tickSize":{"condition":{"test":"round(datum.value*10) % 5 == 0","value":-5},"value":-2.5}}}}},
{"data":{"name":"m"},"transform":[{"filter":"datum.p==1"}],"mark":{"type":"errorbar","color":"#555","thickness":1,"opacity":0.8},
"encoding":{"x":{"field":"t","type":"quantitative","scale":{"domain":[7500,3500],"nice":false,"zero":false},"axis":null},"y":{"field":"v","type":"quantitative","scale":{"domain":[0,3],"nice":false,"zero":false},"axis":null},"yError":{"field":"ey"}}},
{"data":{"name":"h"},"transform":[{"filter":"datum.p==1"}],"mark":{"type":"rule","color":"#444","strokeWidth":1},
"encoding":{"y":{"field":"v","type":"quantitative","scale":{"domain":[0,3],"nice":false,"zero":false},"axis":null},"strokeDash":{"field":"k","type":"nominal","scale":{"domain":["mean","upper","lower"],"range":[[1,0],[7,3],[7,3,2,3]]},"legend":null}}},
{"data":{"name":"m"},"transform":[{"filter":"datum.p==1"}],"mark":{"type":"point","shape":"cross","filled":true,"color":"#ff00ff","size":28,"opacity":1},
"encoding":{"x":{"field":"t","type":"quantitative","scale":{"domain":[7500,3500],"nice":false,"zero":false},"axis":null},"y":{"field":"v","type":"quantitative","scale":{"domain":[0,3],"nice":false,"zero":false},"axis":null}}}
],"resolve":{"axis":{"x":"independent","y":"independent"}}},
{"width":233,"height":173,"layer":[
{"data":{"name":"g"},"transform":[{"filter":"datum.p==2"}],"mark":{"type":"point","filled":true,"size":3,"color":"#666","clip":true},
"encoding":{"x":{"field":"t","type":"quantitative","scale":{"domain":[7500,3500],"nice":false,"zero":false},"axis":{"orient":"bottom","title":"Teff","values":[3600,3800,4000,4200,4400,4600,4800,5000,5200,5400,5600,5800,6000,6200,6400,6600,6800,7000,7200,7400],"labelExpr":"datum.value % 1000 == 0 ? format(datum.value,'d') : ''","tickSize":{"condition":{"test":"datum.value % 1000 == 0","value":-5},"value":-2.5}}},
"y":{"field":"v","type":"quantitative","scale":{"domain":[0,4.5],"nice":false,"zero":false},"axis":{"orient":"left","title":"E(I−J)/E(B−V)","values":[0,0.2,0.4,0.6,0.8,1,1.2,1.4,1.6,1.8,2,2.2,2.4,2.6,2.8,3,3.2,3.4,3.6,3.8,4,4.2,4.4],"labelExpr":"round(datum.value*5) % 5 == 0 ? format(datum.value,'d') : ''","labelPadding":4,"tickSize":{"condition":{"test":"round(datum.value*5) % 5 == 0","value":-5},"value":-2.5}}}}},
{"data":{"name":"m"},"transform":[{"filter":"datum.p==2"}],"mark":{"type":"errorbar","color":"#555","thickness":1,"opacity":0.8},
"encoding":{"x":{"field":"t","type":"quantitative","scale":{"domain":[7500,3500],"nice":false,"zero":false},"axis":{"orient":"top","title":null,"labels":false,"values":[3600,3800,4000,4200,4400,4600,4800,5000,5200,5400,5600,5800,6000,6200,6400,6600,6800,7000,7200,7400],"tickSize":{"condition":{"test":"datum.value % 1000 == 0","value":-5},"value":-2.5}}},"xError":{"field":"ex"},
"y":{"field":"v","type":"quantitative","scale":{"domain":[0,4.5],"nice":false,"zero":false},"axis":{"orient":"right","title":null,"labels":false,"values":[0,0.2,0.4,0.6,0.8,1,1.2,1.4,1.6,1.8,2,2.2,2.4,2.6,2.8,3,3.2,3.4,3.6,3.8,4,4.2,4.4],"tickSize":{"condition":{"test":"round(datum.value*5) % 5 == 0","value":-5},"value":-2.5}}}}},
{"data":{"name":"m"},"transform":[{"filter":"datum.p==2"}],"mark":{"type":"errorbar","color":"#555","thickness":1,"opacity":0.8},
"encoding":{"x":{"field":"t","type":"quantitative","scale":{"domain":[7500,3500],"nice":false,"zero":false},"axis":null},"y":{"field":"v","type":"quantitative","scale":{"domain":[0,4.5],"nice":false,"zero":false},"axis":null},"yError":{"field":"ey"}}},
{"data":{"name":"h"},"transform":[{"filter":"datum.p==2"}],"mark":{"type":"rule","color":"#444","strokeWidth":1},
"encoding":{"y":{"field":"v","type":"quantitative","scale":{"domain":[0,4.5],"nice":false,"zero":false},"axis":null},"strokeDash":{"field":"k","type":"nominal","scale":{"domain":["mean","upper","lower"],"range":[[1,0],[7,3],[7,3,2,3]]},"legend":null}}},
{"data":{"name":"m"},"transform":[{"filter":"datum.p==2"}],"mark":{"type":"point","shape":"cross","filled":true,"color":"#ff00ff","size":28,"opacity":1},
"encoding":{"x":{"field":"t","type":"quantitative","scale":{"domain":[7500,3500],"nice":false,"zero":false},"axis":null},"y":{"field":"v","type":"quantitative","scale":{"domain":[0,4.5],"nice":false,"zero":false},"axis":null}}}
],"resolve":{"axis":{"x":"independent","y":"independent"}}},
{"width":233,"height":173,"layer":[
{"data":{"name":"g"},"transform":[{"filter":"datum.p==3"}],"mark":{"type":"point","filled":true,"size":3,"color":"#666","clip":true},
"encoding":{"x":{"field":"t","type":"quantitative","scale":{"domain":[7500,3500],"nice":false,"zero":false},"axis":{"orient":"bottom","title":"Teff","values":[3600,3800,4000,4200,4400,4600,4800,5000,5200,5400,5600,5800,6000,6200,6400,6600,6800,7000,7200,7400],"labelExpr":"datum.value % 1000 == 0 ? format(datum.value,'d') : ''","tickSize":{"condition":{"test":"datum.value % 1000 == 0","value":-5},"value":-2.5}}},
"y":{"field":"v","type":"quantitative","scale":{"domain":[0,7],"nice":false,"zero":false},"axis":{"orient":"left","title":"E(V−J)/E(B−V)","values":[0,0.2,0.4,0.6,0.8,1,1.2,1.4,1.6,1.8,2,2.2,2.4,2.6,2.8,3,3.2,3.4,3.6,3.8,4,4.2,4.4,4.6,4.8,5,5.2,5.4,5.6,5.8,6,6.2,6.4,6.6,6.8,7],"labelExpr":"round(datum.value*5) % 5 == 0 ? format(datum.value,'d') : ''","labelPadding":4,"tickSize":{"condition":{"test":"round(datum.value*5) % 5 == 0","value":-5},"value":-2.5}}}}},
{"data":{"name":"m"},"transform":[{"filter":"datum.p==3"}],"mark":{"type":"errorbar","color":"#555","thickness":1,"opacity":0.8},
"encoding":{"x":{"field":"t","type":"quantitative","scale":{"domain":[7500,3500],"nice":false,"zero":false},"axis":{"orient":"top","title":null,"labels":false,"values":[3600,3800,4000,4200,4400,4600,4800,5000,5200,5400,5600,5800,6000,6200,6400,6600,6800,7000,7200,7400],"tickSize":{"condition":{"test":"datum.value % 1000 == 0","value":-5},"value":-2.5}}},"xError":{"field":"ex"},
"y":{"field":"v","type":"quantitative","scale":{"domain":[0,7],"nice":false,"zero":false},"axis":{"orient":"right","title":null,"labels":false,"values":[0,0.2,0.4,0.6,0.8,1,1.2,1.4,1.6,1.8,2,2.2,2.4,2.6,2.8,3,3.2,3.4,3.6,3.8,4,4.2,4.4,4.6,4.8,5,5.2,5.4,5.6,5.8,6,6.2,6.4,6.6,6.8,7],"tickSize":{"condition":{"test":"round(datum.value*5) % 5 == 0","value":-5},"value":-2.5}}}}},
{"data":{"name":"m"},"transform":[{"filter":"datum.p==3"}],"mark":{"type":"errorbar","color":"#555","thickness":1,"opacity":0.8},
"encoding":{"x":{"field":"t","type":"quantitative","scale":{"domain":[7500,3500],"nice":false,"zero":false},"axis":null},"y":{"field":"v","type":"quantitative","scale":{"domain":[0,7],"nice":false,"zero":false},"axis":null},"yError":{"field":"ey"}}},
{"data":{"name":"h"},"transform":[{"filter":"datum.p==3"}],"mark":{"type":"rule","color":"#444","strokeWidth":1},
"encoding":{"y":{"field":"v","type":"quantitative","scale":{"domain":[0,7],"nice":false,"zero":false},"axis":null},"strokeDash":{"field":"k","type":"nominal","scale":{"domain":["mean","upper","lower"],"range":[[1,0],[7,3],[7,3,2,3]]},"legend":null}}},
{"data":{"name":"m"},"transform":[{"filter":"datum.p==3"}],"mark":{"type":"point","shape":"cross","filled":true,"color":"#ff00ff","size":28,"opacity":1},
"encoding":{"x":{"field":"t","type":"quantitative","scale":{"domain":[7500,3500],"nice":false,"zero":false},"axis":null},"y":{"field":"v","type":"quantitative","scale":{"domain":[0,7],"nice":false,"zero":false},"axis":null}}}
],"resolve":{"axis":{"x":"independent","y":"independent"}}},
{"width":232,"height":173,"layer":[
{"data":{"name":"g"},"transform":[{"filter":"datum.p==4"}],"mark":{"type":"point","filled":true,"size":3,"color":"#666","clip":true},
"encoding":{"x":{"field":"t","type":"quantitative","scale":{"domain":[7500,3500],"nice":false,"zero":false},"axis":{"orient":"bottom","title":"Teff","values":[3600,3800,4000,4200,4400,4600,4800,5000,5200,5400,5600,5800,6000,6200,6400,6600,6800,7000,7200,7400],"labelExpr":"datum.value % 1000 == 0 ? format(datum.value,'d') : ''","tickSize":{"condition":{"test":"datum.value % 1000 == 0","value":-5},"value":-2.5}}},
"y":{"field":"v","type":"quantitative","scale":{"domain":[0,7],"nice":false,"zero":false},"axis":{"orient":"left","title":"E(V−H)/E(B−V)","values":[0,0.2,0.4,0.6,0.8,1,1.2,1.4,1.6,1.8,2,2.2,2.4,2.6,2.8,3,3.2,3.4,3.6,3.8,4,4.2,4.4,4.6,4.8,5,5.2,5.4,5.6,5.8,6,6.2,6.4,6.6,6.8,7],"labelExpr":"round(datum.value*5) % 5 == 0 ? format(datum.value,'d') : ''","labelPadding":4,"tickSize":{"condition":{"test":"round(datum.value*5) % 5 == 0","value":-5},"value":-2.5}}}}},
{"data":{"name":"m"},"transform":[{"filter":"datum.p==4"}],"mark":{"type":"errorbar","color":"#555","thickness":1,"opacity":0.8},
"encoding":{"x":{"field":"t","type":"quantitative","scale":{"domain":[7500,3500],"nice":false,"zero":false},"axis":{"orient":"top","title":null,"labels":false,"values":[3600,3800,4000,4200,4400,4600,4800,5000,5200,5400,5600,5800,6000,6200,6400,6600,6800,7000,7200,7400],"tickSize":{"condition":{"test":"datum.value % 1000 == 0","value":-5},"value":-2.5}}},"xError":{"field":"ex"},
"y":{"field":"v","type":"quantitative","scale":{"domain":[0,7],"nice":false,"zero":false},"axis":{"orient":"right","title":null,"labels":false,"values":[0,0.2,0.4,0.6,0.8,1,1.2,1.4,1.6,1.8,2,2.2,2.4,2.6,2.8,3,3.2,3.4,3.6,3.8,4,4.2,4.4,4.6,4.8,5,5.2,5.4,5.6,5.8,6,6.2,6.4,6.6,6.8,7],"tickSize":{"condition":{"test":"round(datum.value*5) % 5 == 0","value":-5},"value":-2.5}}}}},
{"data":{"name":"m"},"transform":[{"filter":"datum.p==4"}],"mark":{"type":"errorbar","color":"#555","thickness":1,"opacity":0.8},
"encoding":{"x":{"field":"t","type":"quantitative","scale":{"domain":[7500,3500],"nice":false,"zero":false},"axis":null},"y":{"field":"v","type":"quantitative","scale":{"domain":[0,7],"nice":false,"zero":false},"axis":null},"yError":{"field":"ey"}}},
{"data":{"name":"h"},"transform":[{"filter":"datum.p==4"}],"mark":{"type":"rule","color":"#444","strokeWidth":1},
"encoding":{"y":{"field":"v","type":"quantitative","scale":{"domain":[0,7],"nice":false,"zero":false},"axis":null},"strokeDash":{"field":"k","type":"nominal","scale":{"domain":["mean","upper","lower"],"range":[[1,0],[7,3],[7,3,2,3]]},"legend":null}}},
{"data":{"name":"m"},"transform":[{"filter":"datum.p==4"}],"mark":{"type":"point","shape":"cross","filled":true,"color":"#ff00ff","size":28,"opacity":1},
"encoding":{"x":{"field":"t","type":"quantitative","scale":{"domain":[7500,3500],"nice":false,"zero":false},"axis":null},"y":{"field":"v","type":"quantitative","scale":{"domain":[0,7],"nice":false,"zero":false},"axis":null}}}
],"resolve":{"axis":{"x":"independent","y":"independent"}}},
{"width":233,"height":173,"layer":[
{"data":{"name":"g"},"transform":[{"filter":"datum.p==5"}],"mark":{"type":"point","filled":true,"size":3,"color":"#666","clip":true},
"encoding":{"x":{"field":"t","type":"quantitative","scale":{"domain":[7500,3500],"nice":false,"zero":false},"axis":{"orient":"bottom","title":"Teff","values":[3600,3800,4000,4200,4400,4600,4800,5000,5200,5400,5600,5800,6000,6200,6400,6600,6800,7000,7200,7400],"labelExpr":"datum.value % 1000 == 0 ? format(datum.value,'d') : ''","tickSize":{"condition":{"test":"datum.value % 1000 == 0","value":-5},"value":-2.5}}},
"y":{"field":"v","type":"quantitative","scale":{"domain":[0,10],"nice":false,"zero":false},"axis":{"orient":"left","title":"E(V−K)/E(B−V)","values":[0,0.5,1,1.5,2,2.5,3,3.5,4,4.5,5,5.5,6,6.5,7,7.5,8,8.5,9,9.5,10],"labelExpr":"round(datum.value*2) % 4 == 0 ? format(datum.value,'d') : ''","labelPadding":4,"tickSize":{"condition":{"test":"round(datum.value*2) % 4 == 0","value":-5},"value":-2.5}}}}},
{"data":{"name":"m"},"transform":[{"filter":"datum.p==5"}],"mark":{"type":"errorbar","color":"#555","thickness":1,"opacity":0.8},
"encoding":{"x":{"field":"t","type":"quantitative","scale":{"domain":[7500,3500],"nice":false,"zero":false},"axis":{"orient":"top","title":null,"labels":false,"values":[3600,3800,4000,4200,4400,4600,4800,5000,5200,5400,5600,5800,6000,6200,6400,6600,6800,7000,7200,7400],"tickSize":{"condition":{"test":"datum.value % 1000 == 0","value":-5},"value":-2.5}}},"xError":{"field":"ex"},
"y":{"field":"v","type":"quantitative","scale":{"domain":[0,10],"nice":false,"zero":false},"axis":{"orient":"right","title":null,"labels":false,"values":[0,0.5,1,1.5,2,2.5,3,3.5,4,4.5,5,5.5,6,6.5,7,7.5,8,8.5,9,9.5,10],"tickSize":{"condition":{"test":"round(datum.value*2) % 4 == 0","value":-5},"value":-2.5}}}}},
{"data":{"name":"m"},"transform":[{"filter":"datum.p==5"}],"mark":{"type":"errorbar","color":"#555","thickness":1,"opacity":0.8},
"encoding":{"x":{"field":"t","type":"quantitative","scale":{"domain":[7500,3500],"nice":false,"zero":false},"axis":null},"y":{"field":"v","type":"quantitative","scale":{"domain":[0,10],"nice":false,"zero":false},"axis":null},"yError":{"field":"ey"}}},
{"data":{"name":"h"},"transform":[{"filter":"datum.p==5"}],"mark":{"type":"rule","color":"#444","strokeWidth":1},
"encoding":{"y":{"field":"v","type":"quantitative","scale":{"domain":[0,10],"nice":false,"zero":false},"axis":null},"strokeDash":{"field":"k","type":"nominal","scale":{"domain":["mean","upper","lower"],"range":[[1,0],[7,3],[7,3,2,3]]},"legend":null}}},
{"data":{"name":"m"},"transform":[{"filter":"datum.p==5"}],"mark":{"type":"point","shape":"cross","filled":true,"color":"#ff00ff","size":28,"opacity":1},
"encoding":{"x":{"field":"t","type":"quantitative","scale":{"domain":[7500,3500],"nice":false,"zero":false},"axis":null},"y":{"field":"v","type":"quantitative","scale":{"domain":[0,10],"nice":false,"zero":false},"axis":null}}}
],"resolve":{"axis":{"x":"independent","y":"independent"}}},
{"width":227,"height":173,"layer":[
{"data":{"name":"s"},"transform":[{"filter":"datum.s == 'Spect.'"}],"mark":{"type":"errorbar","color":"black","thickness":1,"ticks":true},
"encoding":{"x":{"field":"i","type":"quantitative","scale":{"domain":[0.52,6.37],"nice":false,"zero":false},"axis":null},"y":{"field":"v","type":"quantitative","scale":{"domain":[0,5],"nice":false,"zero":false},"axis":{"orient":"right","title":null,"labels":false,"values":[0,0.2,0.4,0.6,0.8,1,1.2,1.4,1.6,1.8,2,2.2,2.4,2.6,2.8,3,3.2,3.4,3.6,3.8,4,4.2,4.4,4.6,4.8,5],"tickSize":{"condition":{"test":"round(datum.value*5) % 5 == 0","value":-5},"value":-2.5}}},"yError":{"field":"err"}}},
{"data":{"name":"s"},"mark":{"type":"point","opacity":1,"strokeWidth":1.2},
"encoding":{"x":{"field":"i","type":"quantitative","scale":{"domain":[0.52,6.37],"nice":false,"zero":false},"axis":{"orient":"bottom","title":"m1−m2","titleFontSize":6,"titleFont":"Liberation Serif","titlePadding":0,"values":[1,2,3,4,5],"ticks":false,"labelExpr":"['','V−I','I−J','V−J','V−H','V−K'][datum.value]","labelFont":"Liberation Serif","labelFontSize":9,"labelPadding":3}},
"y":{"field":"v","type":"quantitative","scale":{"domain":[0,5],"nice":false,"zero":false},"axis":{"orient":"left","title":"E(m1−m2)/E(B−V)","titleFont":"Liberation Serif","labelFont":"Liberation Serif","labelFontSize":8,"labelColor":"#111","labelPadding":4,"values":[0,0.2,0.4,0.6,0.8,1,1.2,1.4,1.6,1.8,2,2.2,2.4,2.6,2.8,3,3.2,3.4,3.6,3.8,4,4.2,4.4,4.6,4.8,5],"labelExpr":"round(datum.value*5) % 5 == 0 ? format(datum.value,'d') : ''","tickSize":{"condition":{"test":"round(datum.value*5) % 5 == 0","value":-5},"value":-2.5}}},
"shape":{"field":"s","type":"nominal","scale":{"domain":["R=3.1−FM03","R=4.0−FM03","R=5.0−FM03","Phot.","Spect."],"range":["M-1,0L1,0M0,-1L0,1","M-1,0L1,0M0,-1L0,1M-0.7,-0.7L0.7,0.7M-0.7,0.7L0.7,-0.7","square","circle","circle"]},"legend":{"title":null,"orient":"bottom-right","offset":8,"strokeColor":"#777","fillColor":"white","padding":4,"labelFont":"Liberation Serif","labelFontSize":9,"labelColor":"#222","symbolSize":45,"rowPadding":0,"labelOffset":5}},
"fill":{"field":"s","type":"nominal","scale":{"domain":["R=3.1−FM03","R=4.0−FM03","R=5.0−FM03","Phot.","Spect."],"range":["transparent","transparent","transparent","#ff00ff","#000000"]}},
"stroke":{"field":"s","type":"nominal","scale":{"domain":["R=3.1−FM03","R=4.0−FM03","R=5.0−FM03","Phot.","Spect."],"range":["#22dd22","#ee2222","#4455ee","#ff00ff","#000000"]}},
"size":{"value":60}}}
],"resolve":{"axis":{"x":"independent","y":"independent"}}}
],
"config":{
"view":{"stroke":"#222","strokeWidth":1},
"axis":{"grid":false,"domain":false,"labelFontSize":7,"titleFontSize":7,"titleFontWeight":"normal","labelFont":"Liberation Sans","titleFont":"Liberation Sans","tickColor":"#222","labelColor":"#333","titleColor":"#333","labelOverlap":false,"labelPadding":6,"titlePadding":2}
}
}
